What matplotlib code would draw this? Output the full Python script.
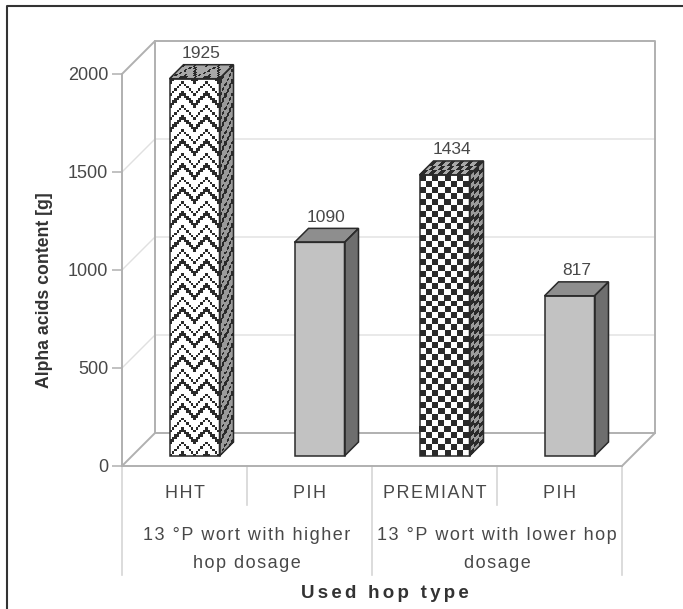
import numpy as np
import matplotlib
matplotlib.use('Agg')
import matplotlib.pyplot as plt
from matplotlib.colors import ListedColormap

types = ['HHT', 'PIH', 'PREMIANT', 'PIH']
values = [1925, 1090, 1434, 817]
fills = ['weave', 'plain', 'check', 'plain']
groups = ['13 °P wort with higher\nhop dosage', '13 °P wort with lower hop\ndosage']
yticks = [0, 500, 1000, 1500, 2000]

W, H = 683, 609
plt.rcParams['font.family'] = ['Liberation Sans', 'DejaVu Sans']

fig = plt.figure(figsize=(W / 100, H / 100), dpi=100)
ax = fig.add_axes([122 / W, 1 - 466 / H, 500 / W, 392 / H])
ax.set_xlim(0, 4)
ax.set_ylim(0, 2000)
ax.patch.set_visible(False)

px = 4 / 500      # one pixel in x data units
py = 2000 / 392   # one pixel in y data units
text_col = '#484848'


def sp(s, n=1):
    # letter spacing, the original text is widely tracked
    return ('\u200a' * n).join(s)


# walls and floor
wall = '#b0b0b0'
grid = '#e0e0e0'
d = 33
for v in yticks[1:-1]:
    ax.plot([0, d * px, 4 + d * px], [v, v + d * py, v + d * py], color=grid, lw=1, clip_on=False, zorder=1)
ax.plot([0, d * px, 4 + d * px, 4 + d * px, 4], [0, d * py, d * py, 0 + d * py, 0], color=wall, lw=1.4, clip_on=False, zorder=1)
ax.plot([0, d * px, 4 + d * px, 4 + d * px], [2000, 2000 + d * py, 2000 + d * py, d * py], color=wall, lw=1.4, clip_on=False, zorder=1)
ax.plot([d * px, d * px], [d * py, 2000 + d * py], color=wall, lw=1.4, clip_on=False, zorder=1)


def texture(kind, nx, ny):
    i, j = np.meshgrid(np.arange(nx), np.arange(ny))
    if kind == 'check':
        return ((i + j) % 2 == 0).astype(int)
    # dense chevrons of dotted dark lines, white bands between
    k = j + np.abs(i % 10 - 5)
    line = (k % 5 == 0) | ((k % 5 == 1) & ((i + j) % 2 == 0))
    return line.astype(int)


def skin(kind, p00, p10, p01, p11, light, cell, order):
    # bilinear quad filled with the bar pattern
    p00, p10, p01, p11 = map(np.array, (p00, p10, p01, p11))
    nx = max(2, int(round(abs(p10 - p00)[0] / px / cell)))
    ny = max(2, int(round(abs(p01 - p00)[1] / py / cell)))
    u, v = np.meshgrid(np.linspace(0, 1, nx + 1), np.linspace(0, 1, ny + 1))
    X = (1 - u) * (1 - v) * p00[0] + u * (1 - v) * p10[0] + (1 - u) * v * p01[0] + u * v * p11[0]
    Y = (1 - u) * (1 - v) * p00[1] + u * (1 - v) * p10[1] + (1 - u) * v * p01[1] + u * v * p11[1]
    cmap = ListedColormap([light, '#2a2a2a'])
    ax.pcolormesh(X, Y, texture(kind, nx, ny), cmap=cmap, vmin=0, vmax=1, clip_on=False,
                  zorder=order, antialiased=False, linewidth=0)


bw = 50 * px
dep = 14
for n, (val, kind) in enumerate(zip(values, fills)):
    x0 = n + 0.5 - bw / 2 + 10 * px
    x1 = x0 + bw
    y0 = 10 * py
    y1 = y0 + val
    ox, oy = dep * px, dep * py
    front = [(x0, y0), (x1, y0), (x1, y1), (x0, y1)]
    side = [(x1, y0), (x1 + ox, y0 + oy), (x1 + ox, y1 + oy), (x1, y1)]
    top = [(x0, y1), (x1, y1), (x1 + ox, y1 + oy), (x0 + ox, y1 + oy)]
    z = 3 + n
    if kind == 'plain':
        ax.fill(*zip(*front), fc='#c2c2c2', ec='none', clip_on=False, zorder=z)
        ax.fill(*zip(*side), fc='#6e6e6e', ec='none', clip_on=False, zorder=z)
        ax.fill(*zip(*top), fc='#8e8e8e', ec='none', clip_on=False, zorder=z)
    else:
        cell = 6 if kind == 'check' else 2.4
        skin(kind, front[0], front[1], front[3], front[2], '#ffffff', cell, z)
        skin(kind, side[0], side[1], side[3], side[2], '#9a9a9a', 4.7 if kind == 'check' else cell, z)
        skin(kind, top[0], top[1], top[3], top[2], '#a8a8a8', 4.7 if kind == 'check' else cell, z)
    for face in (front, side, top):
        ax.fill(*zip(*face), fc='none', ec='#2a2a2a', lw=1.1, clip_on=False, zorder=z + 0.5)
    ax.text((x0 + x1) / 2 + 7 * px, y1 + oy + 11 * py, str(val), ha='center', va='center',
            fontsize=12.5, color=text_col, zorder=10)

# axes
for s in ('top', 'right'):
    ax.spines[s].set_visible(False)
for s in ('left', 'bottom'):
    ax.spines[s].set_color(wall)
    ax.spines[s].set_linewidth(1.4)
ax.set_xticks([])
ax.set_yticks(yticks)
ax.tick_params(axis='y', length=7, width=1.1, color=wall, labelcolor=text_col, labelsize=13, pad=3)

# category table under the plot
sep = '#d6d6d6'
for x, low in zip(range(5), (575, 505, 575, 505, 575)):
    ax.plot([x, x], [0, -(low - 466) * py], color=sep, lw=1.2, clip_on=False, zorder=1)
for n, name in enumerate(types):
    ax.text(n + 0.5, -28 * py, sp(name), ha='center', va='center', fontsize=13, color=text_col)
for n, name in enumerate(groups):
    a, b = name.split('\n')
    ax.text(2 * n + 1, -69 * py, sp(a), ha='center', va='center', fontsize=13, color=text_col)
    ax.text(2 * n + 1, -98 * py, sp(b), ha='center', va='center', fontsize=13, color=text_col)

fig.text(385 / W, 1 - 594 / H, sp('Used hop type', 2), ha='center', va='center', fontsize=13.5, fontweight='bold', color='#333333')
fig.text(45 / W, 1 - 290 / H, 'Alpha acids content [g]', rotation=90, ha='center', va='center',
         fontsize=12.7, fontweight='bold', color='#333333')

# frame of the scanned figure, only left and top survive
fig.add_artist(plt.Line2D([6.5 / W, 6.5 / W, 1], [0, 1 - 6 / H, 1 - 6 / H], color='#333333', lw=1.5))

fig.savefig('out.png', dpi=100)
